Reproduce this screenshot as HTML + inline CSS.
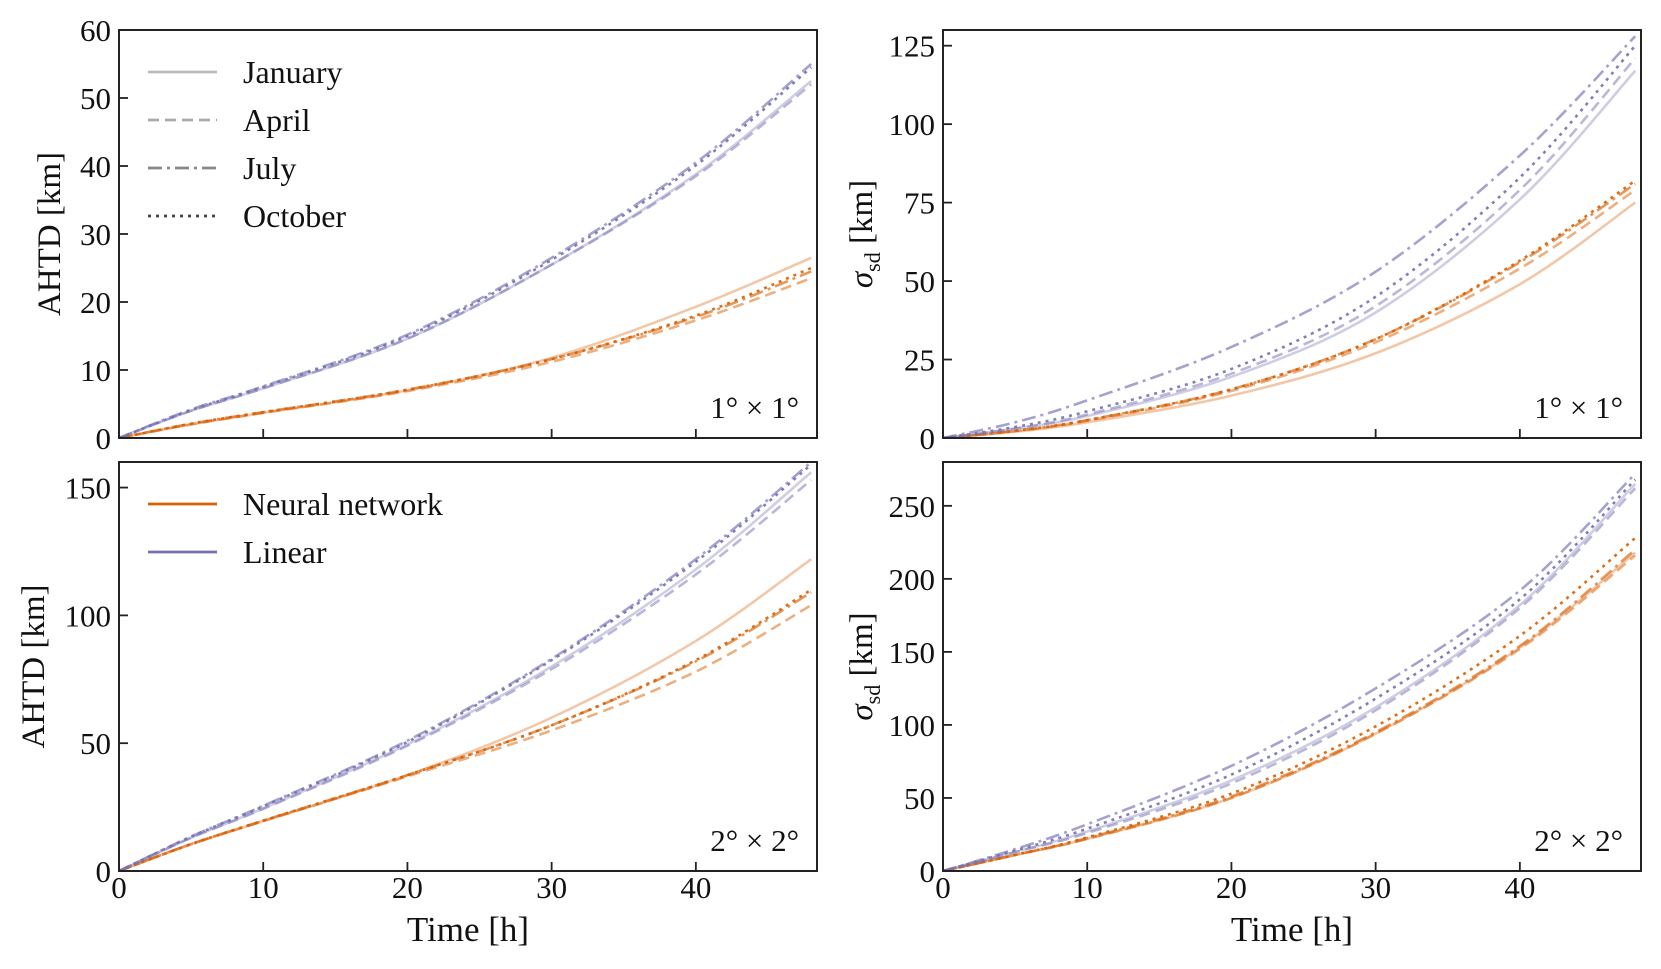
<!DOCTYPE html>
<html><head><meta charset="utf-8">
<style>
html,body{margin:0;padding:0;background:#fff;}
svg{display:block;font-family:"Liberation Serif",serif;}
</style></head>
<body>
<svg id="chart" width="1661" height="969" viewBox="0 0 1661 969" xmlns="http://www.w3.org/2000/svg"></svg>
<script>
// ---- data ----
const times = [0, 5, 10, 20, 30, 40, 48];
const months = ["January", "April", "July", "October"];
// Panel A: AHTD 1x1
const a_lin_jan = [0, 4, 7.3, 14.6, 25.5, 38.8, 52.5];
const a_lin_apr = [0, 4, 7.3, 14.6, 25.5, 38.5, 52];
const a_lin_jul = [0, 4.2, 7.6, 15.2, 26.5, 40.5, 55];
const a_lin_oct = [0, 4.1, 7.5, 15, 26.2, 40.1, 54.5];
const a_nn_jan = [0, 2, 3.7, 7, 11.8, 19.3, 26.5];
const a_nn_apr = [0, 2, 3.7, 6.9, 11.2, 17.3, 23.5];
const a_nn_jul = [0, 2.1, 3.8, 7.1, 11.6, 17.8, 24.5];
const a_nn_oct = [0, 2.1, 3.8, 7.1, 11.6, 18, 25];
// Panel B: sigma 1x1
const b_lin_jan = [0, 3, 7, 19.5, 40, 76, 117];
const b_lin_apr = [0, 3, 7.5, 20.5, 42, 79, 121];
const b_lin_jul = [0, 5, 12, 29, 53, 90, 128];
const b_lin_oct = [0, 3.5, 8.5, 22, 45, 83, 125];
const b_nn_jan = [0, 2, 5, 13.5, 27, 49, 75];
const b_nn_apr = [0, 2.2, 5.5, 15, 30.5, 54, 79];
const b_nn_jul = [0, 2.3, 5.7, 15.5, 31.5, 56, 81];
const b_nn_oct = [0, 2.3, 5.7, 15.5, 31.5, 56.5, 82];
// Panel C: AHTD 2x2
const c_lin_jan = [0, 13, 24.5, 49.5, 80, 118, 156];
const c_lin_apr = [0, 13, 24.3, 49, 79, 116, 153];
const c_lin_jul = [0, 13.5, 25.5, 51, 83, 122, 160];
const c_lin_oct = [0, 13.4, 25.3, 50.5, 82.5, 121, 159];
const c_nn_jan = [0, 10.5, 19.5, 37.5, 60, 90, 122];
const c_nn_apr = [0, 10.5, 19.5, 37, 55, 78, 104];
const c_nn_jul = [0, 10.5, 19.7, 37.5, 57, 82, 109];
const c_nn_oct = [0, 10.5, 19.7, 37.5, 57, 82.5, 110];
// Panel D: sigma 2x2
const d_lin_jan = [0, 13, 27, 62, 112, 182, 265];
const d_lin_apr = [0, 13, 26, 60, 110, 180, 262];
const d_lin_jul = [0, 15, 32, 72, 125, 192, 272];
const d_lin_oct = [0, 14, 29, 66, 118, 186, 268];
const d_nn_jan = [0, 11, 22, 50, 94, 153, 218];
const d_nn_apr = [0, 11, 22, 50, 94, 152, 216];
const d_nn_jul = [0, 11, 22.5, 51, 95, 154, 220];
const d_nn_oct = [0, 11, 23, 53, 99, 161, 228];
const xTicks = [0, 10, 20, 30, 40];
const aTicks = [0, 10, 20, 30, 40, 50, 60];
const bTicks = [0, 25, 50, 75, 100, 125];
const cTicks = [0, 50, 100, 150];
const dTicks = [0, 50, 100, 150, 200, 250];

const NS = "http://www.w3.org/2000/svg";
const svg = document.getElementById("chart");
function mk(tag, attrs, parent) {
  const e = document.createElementNS(NS, tag);
  for (const k in attrs) e.setAttribute(k, attrs[k]);
  (parent || svg).appendChild(e);
  return e;
}
const ORANGE = "#d95f02", PURPLE = "#7570b3";
const styles = [
  {dash: "", op: 0.35},
  {dash: "11 6", op: 0.5},
  {dash: "14 5 3 5", op: 0.65},
  {dash: "3 5", op: 0.9}
];
const XMAX = 48.4;

function panel(cfg) {
  const g = mk("g", {});
  
  
  const {x0, y0, w, h, ymax} = cfg;
  const sx = t => x0 + t / XMAX * w;
  const sy = v => y0 + h - v / ymax * h;
  const clip = mk("clipPath", {id: "clip-" + cfg.name}, g);
  mk("rect", {x: x0, y: y0, width: w, height: h}, clip);
  const sg = mk("g", {"clip-path": "url(#clip-" + cfg.name + ")"}, g);
  const series = [[cfg.nn, ORANGE, "nn"], [cfg.lin, PURPLE, "linear"]];
  series.forEach(([arrs, col, nm]) => {
    arrs.forEach((vals, i) => {
      const pts = times.map((t, j) => [sx(t), sy(vals[j])]);
      let d = "M" + pts[0][0] + "," + pts[0][1];
      for (let j = 0; j < pts.length - 1; j++) {
        const p0 = pts[Math.max(0, j - 1)], p1 = pts[j], p2 = pts[j + 1], p3 = pts[Math.min(pts.length - 1, j + 2)];
        const c1 = [p1[0] + (p2[0] - p0[0]) / 6, p1[1] + (p2[1] - p0[1]) / 6];
        const c2 = [p2[0] - (p3[0] - p1[0]) / 6, p2[1] - (p3[1] - p1[1]) / 6];
        d += " C" + c1 + " " + c2 + " " + p2;
      }
      const p = mk("path", {d: d, fill: "none", stroke: col, "stroke-width": 2.6, "stroke-opacity": styles[i].op, "stroke-dasharray": styles[i].dash}, sg);
      
      
    });
  });
  const fr = mk("rect", {x: x0, y: y0, width: w, height: h, fill: "none", stroke: "#222", "stroke-width": 2}, g);
  
  
  xTicks.forEach(t => {
    mk("line", {x1: sx(t), x2: sx(t), y1: y0 + h, y2: y0 + h - 9, stroke: "#222", "stroke-width": 1.8}, g);
    if (cfg.xlabels) {
      const tx = mk("text", {x: sx(t), y: y0 + h + 27, "font-size": 31, "text-anchor": "middle", fill: "#111"}, g);
      tx.textContent = t;
      
      
    }
  });
  cfg.yticks.forEach(v => {
    mk("line", {x1: x0, x2: x0 + 9, y1: sy(v), y2: sy(v), stroke: "#222", "stroke-width": 1.8}, g);
    const tx = mk("text", {x: x0 - 8, y: sy(v) + 11, "font-size": 31, "text-anchor": "end", fill: "#111"}, g);
    tx.textContent = v;
    
    
  });
  const an = mk("text", {x: x0 + w - 18, y: y0 + h - 20, "font-size": 31, "text-anchor": "end", fill: "#111"}, g);
  an.textContent = cfg.res;
  
  
  const yl = mk("text", {transform: "translate(" + cfg.ylx + "," + (y0 + h / 2) + ") rotate(-90)", "font-size": 33, "text-anchor": "middle", fill: "#111"}, g);
  
  
  if (cfg.sigma) {
    yl.innerHTML = '<tspan font-style="italic">σ</tspan><tspan font-size="22" dy="8">sd</tspan><tspan dy="-8"> [km]</tspan>';
  } else {
    yl.textContent = "AHTD [km]";
  }
  if (cfg.xlabels) {
    const xl = mk("text", {x: x0 + w / 2, y: y0 + h + 70, "font-size": 35, "text-anchor": "middle", fill: "#111"}, g);
    xl.textContent = "Time [h]";
    
    
  }
}

panel({name: "panel-ahtd-1deg", x0: 119, y0: 30, w: 698, h: 408, ymax: 60, yticks: aTicks, lin: [a_lin_jan, a_lin_apr, a_lin_jul, a_lin_oct], nn: [a_nn_jan, a_nn_apr, a_nn_jul, a_nn_oct], res: "1° × 1°", ylx: 60, xlabels: false});
panel({name: "panel-sigma-1deg", x0: 943, y0: 30, w: 698, h: 408, ymax: 130, yticks: bTicks, lin: [b_lin_jan, b_lin_apr, b_lin_jul, b_lin_oct], nn: [b_nn_jan, b_nn_apr, b_nn_jul, b_nn_oct], res: "1° × 1°", ylx: 872, xlabels: false, sigma: true});
panel({name: "panel-ahtd-2deg", x0: 119, y0: 462, w: 698, h: 409, ymax: 160, yticks: cTicks, lin: [c_lin_jan, c_lin_apr, c_lin_jul, c_lin_oct], nn: [c_nn_jan, c_nn_apr, c_nn_jul, c_nn_oct], res: "2° × 2°", ylx: 44, xlabels: true});
panel({name: "panel-sigma-2deg", x0: 943, y0: 462, w: 698, h: 409, ymax: 280, yticks: dTicks, lin: [d_lin_jan, d_lin_apr, d_lin_jul, d_lin_oct], nn: [d_nn_jan, d_nn_apr, d_nn_jul, d_nn_oct], res: "2° × 2°", ylx: 872, xlabels: true, sigma: true});

// legends
const grays = ["#bbb", "#aaa", "#888", "#444"];
months.forEach((m, i) => {
  const y = 72 + i * 48;
  const ln = mk("line", {x1: 148, x2: 217, y1: y, y2: y, stroke: grays[i], "stroke-width": 2.8, "stroke-dasharray": styles[i].dash});
  
  
  const t = mk("text", {x: 243, y: y + 11, "font-size": 32, fill: "#111"});
  t.textContent = m;
  
  
});
const models = [["Neural network", ORANGE], ["Linear", PURPLE]];
models.forEach(([m, c], i) => {
  const y = 504 + i * 48;
  const ln = mk("line", {x1: 148, x2: 217, y1: y, y2: y, stroke: c, "stroke-width": 2.8});
  
  
  const t = mk("text", {x: 243, y: y + 11, "font-size": 32, fill: "#111"});
  t.textContent = m;
  
  
});
</script>
</body></html>
